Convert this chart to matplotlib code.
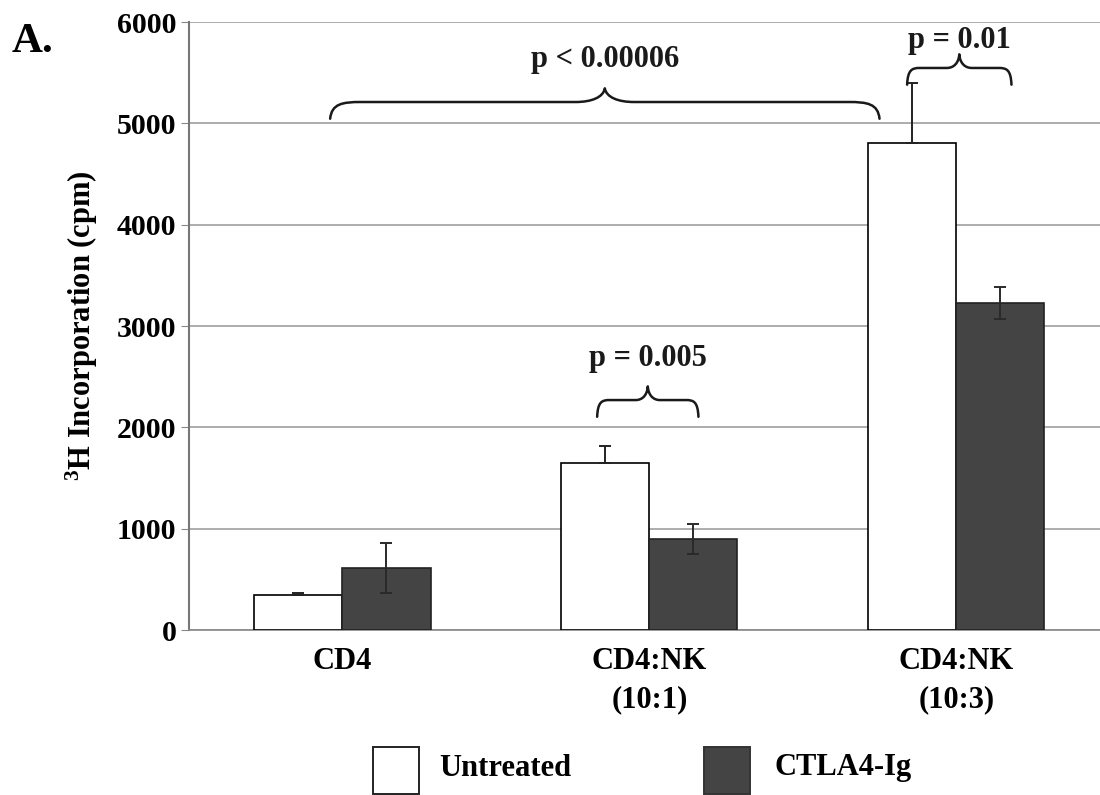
import numpy as np
import matplotlib
matplotlib.use("Agg")
import matplotlib.pyplot as plt
from matplotlib.path import Path
from matplotlib.patches import PathPatch, Rectangle

# Proliferation data (mean cpm and error)
groups = ["CD4", "CD4:NK\n(10:1)", "CD4:NK\n(10:3)"]
untreated = [345, 1650, 4810]
untreated_err = [25, 170, 590]
ctla4 = [612, 900, 3230]
ctla4_err = [245, 145, 155]
series_names = ["Untreated", "CTLA4-Ig"]

# Significance annotations: text, brace span, brace height, text height
pvals = ["p < 0.00006", "p = 0.005", "p = 0.01"]
brace_x0 = [-0.04, 0.83, 1.84]
brace_x1 = [1.75, 1.16, 2.18]
brace_y = [5212, 2270, 5548]
pval_y = [5630, 2680, 5820]

plt.rcParams["font.family"] = ["Liberation Serif", "DejaVu Serif"]
plt.rcParams["font.weight"] = "bold"
plt.rcParams["mathtext.fontset"] = "custom"
plt.rcParams["mathtext.rm"] = "Liberation Serif:bold"
plt.rcParams["mathtext.bf"] = "Liberation Serif:bold"

FS = 22

fig = plt.figure(figsize=(11, 7.95), dpi=100)
ax = fig.add_axes([0.1718, 0.2075, 0.837, 0.7646])

x = np.arange(len(groups))
w = 0.287
dark = "#444444"

ax.bar(x - w / 2, untreated, w, color="white", edgecolor="black", linewidth=1.2, zorder=3)
ax.errorbar(x - w / 2, untreated, yerr=[np.zeros(3), untreated_err], fmt="none",
            ecolor="#222222", elinewidth=1.4, capsize=4, capthick=1.4, zorder=4)
ax.bar(x + w / 2, ctla4, w, color=dark, edgecolor="#222222", linewidth=1.2, zorder=3)
ax.errorbar(x + w / 2, ctla4, yerr=ctla4_err, fmt="none",
            ecolor="#2a2a2a", elinewidth=1.4, capsize=4, capthick=1.4, zorder=4)

ax.set_xlim(-0.5, 2.5)
ax.set_ylim(0, 6000)
ax.set_yticks(np.arange(0, 6001, 1000))
ax.set_xticks(x)
ax.set_xticklabels(groups, fontsize=FS, fontweight="bold", linespacing=1.45)
ax.tick_params(axis="x", length=0, pad=12)
ax.tick_params(axis="y", labelsize=21.5, length=6, color="#888888", pad=3)
for lab in ax.get_yticklabels():
    lab.set_fontweight("bold")
ax.yaxis.grid(True, color="#a0a0a0", linewidth=1.2, zorder=0)
ax.set_axisbelow(True)
for s in ["top", "right"]:
    ax.spines[s].set_visible(False)
ax.spines["left"].set_color("#777777")
ax.spines["left"].set_linewidth(1.5)
ax.spines["bottom"].set_color("#888888")
ax.spines["bottom"].set_linewidth(1.2)
ax.set_ylabel("$\\mathrm{^{3}}$H Incorporation (cpm)", fontsize=FS, fontweight="bold", labelpad=12)


def brace(ax, x0, x1, y, rise, drop):
    """Draw a horizontal curly brace with its tip pointing up."""
    xm = (x0 + x1) / 2
    de = min(0.1, (x1 - x0) * 0.12)
    dt = min(0.095, (x1 - x0) * 0.12)
    verts = [
        (x0, y - drop), (x0 + de * 0.05, y - drop * 0.1), (x0 + de * 0.4, y), (x0 + de, y),
        (xm - dt, y),
        (xm - dt * 0.45, y), (xm - dt * 0.05, y + rise * 0.35), (xm, y + rise),
        (xm + dt * 0.05, y + rise * 0.35), (xm + dt * 0.45, y), (xm + dt, y),
        (x1 - de, y),
        (x1 - de * 0.4, y), (x1 - de * 0.05, y - drop * 0.1), (x1, y - drop),
    ]
    codes = [Path.MOVETO, Path.CURVE4, Path.CURVE4, Path.CURVE4,
             Path.LINETO,
             Path.CURVE4, Path.CURVE4, Path.CURVE4,
             Path.CURVE4, Path.CURVE4, Path.CURVE4,
             Path.LINETO,
             Path.CURVE4, Path.CURVE4, Path.CURVE4]
    ax.add_patch(PathPatch(Path(verts, codes), facecolor="none",
                           edgecolor="#1a1a1a", linewidth=1.8, zorder=5,
                           clip_on=False, capstyle="round", joinstyle="round"))


for txt, bx0, bx1, by, ty in zip(pvals, brace_x0, brace_x1, brace_y, pval_y):
    brace(ax, bx0, bx1, by, 135, 165)
    ax.text((bx0 + bx1) / 2, ty, txt, ha="center", va="center",
            fontsize=FS, fontweight="bold", color="#1a1a1a", zorder=6)

fig.text(0.011, 0.947, "A.", fontsize=31, fontweight="bold", ha="left", va="center")

# Legend drawn in figure coordinates
fig.add_artist(Rectangle((373 / 1100, 1 - 794 / 795), 46 / 1100, 47 / 795,
                          transform=fig.transFigure, facecolor="white",
                          edgecolor="#222222", linewidth=1.4))
fig.add_artist(Rectangle((704 / 1100, 1 - 794 / 795), 46 / 1100, 47 / 795,
                          transform=fig.transFigure, facecolor=dark,
                          edgecolor="#333333", linewidth=1.4))
fig.text(439 / 1100, 1 - 768 / 795, series_names[0], fontsize=FS,
         fontweight="bold", ha="left", va="center")
fig.text(775 / 1100, 1 - 768 / 795, series_names[1], fontsize=FS,
         fontweight="bold", ha="left", va="center")

fig.savefig("out.png", dpi=100, facecolor="white")
